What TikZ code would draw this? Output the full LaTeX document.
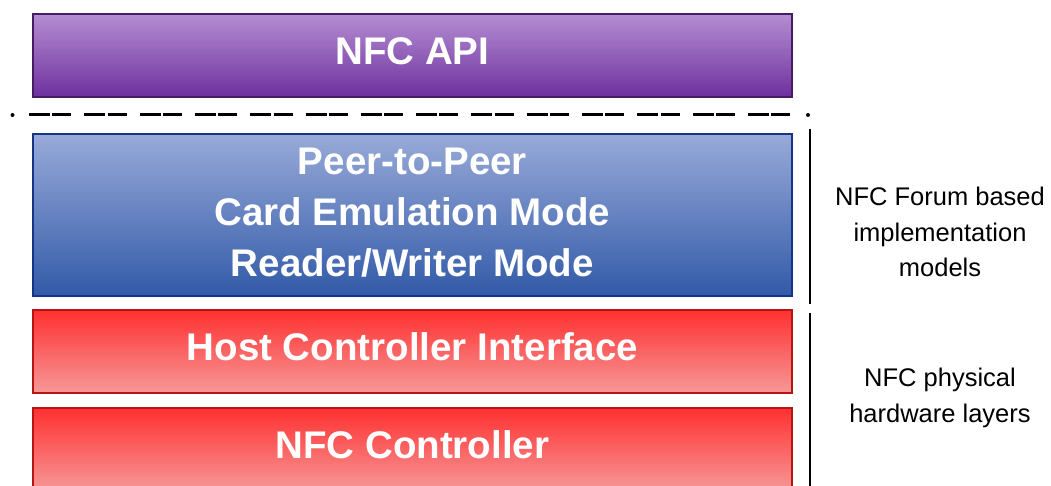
\documentclass[tikz,border=0pt]{standalone}
\usepackage{fontspec}
\setmainfont{Liberation Sans}
\definecolor{apiTop}{RGB}{180,142,210}
\definecolor{apiBot}{RGB}{110,48,158}
\definecolor{apiLine}{RGB}{70,28,100}
\definecolor{modeTop}{RGB}{152,170,216}
\definecolor{modeBot}{RGB}{50,90,168}
\definecolor{modeLine}{RGB}{22,52,135}
\definecolor{hwTop}{RGB}{255,48,48}
\definecolor{hwBot}{RGB}{246,152,152}
\definecolor{hwLine}{RGB}{185,20,20}
\begin{document}
\begin{tikzpicture}[x=1pt,y=-1pt,
  layer/.style={draw, line width=1.8pt, anchor=north west, inner sep=0pt,
    minimum width=759pt, text=white, align=center, text depth=9pt,
    font=\bfseries\fontsize{38.5}{51}\selectfont},
  apilayer/.style={layer, draw=apiLine, top color=apiTop, bottom color=apiBot},
  modelayer/.style={layer, draw=modeLine, top color=modeTop, bottom color=modeBot, text depth=6pt},
  hwlayer/.style={layer, draw=hwLine, top color=hwTop, bottom color=hwBot},
  sidenote/.style={align=center, text=black, font=\fontsize{25.5}{35.5}\selectfont},
  bracket/.style={line width=2.6pt, black},
  separator/.style={line width=3pt, black, dash pattern=on 21pt off 2.3pt on 19pt off 13pt}]
\useasboundingbox (0,0) rectangle (1051,486);
\clip (0,0) rectangle (1051,486);

% stacked layers
\node[apilayer, minimum height=83pt] (api) at (32,13) {NFC API};
\node[modelayer, minimum height=162pt] (modes) at (32,133)
  {Peer-to-Peer\\Card Emulation Mode\\Reader/Writer Mode};
\node[hwlayer, minimum height=83pt] (hci) at (32,309) {Host Controller Interface};
\node[hwlayer, minimum height=83pt] (ctrl) at (32,407) {NFC Controller};

% separator between the API and the protocol stack
\coordinate (sepL) at (29,115);
\coordinate (sepR) at (792,115);
\draw[separator] (sepL) -- (sepR);
\fill (12.5,115) circle (2pt);
\fill (808,115) circle (2pt);

% side brackets
\coordinate (b1t) at (810,129);
\coordinate (b1b) at (810,304);
\coordinate (b2t) at (810,313);
\coordinate (b2b) at (810,490);
\draw[bracket] (b1t) -- (b1b);
\draw[bracket] (b2t) -- (b2b);

% side notes
\node[sidenote] (forum) at (940,232) {NFC Forum based\\implementation\\models};
\node[sidenote] (phys) at (940,398) {NFC physical\\hardware layers};
\end{tikzpicture}
\end{document}
